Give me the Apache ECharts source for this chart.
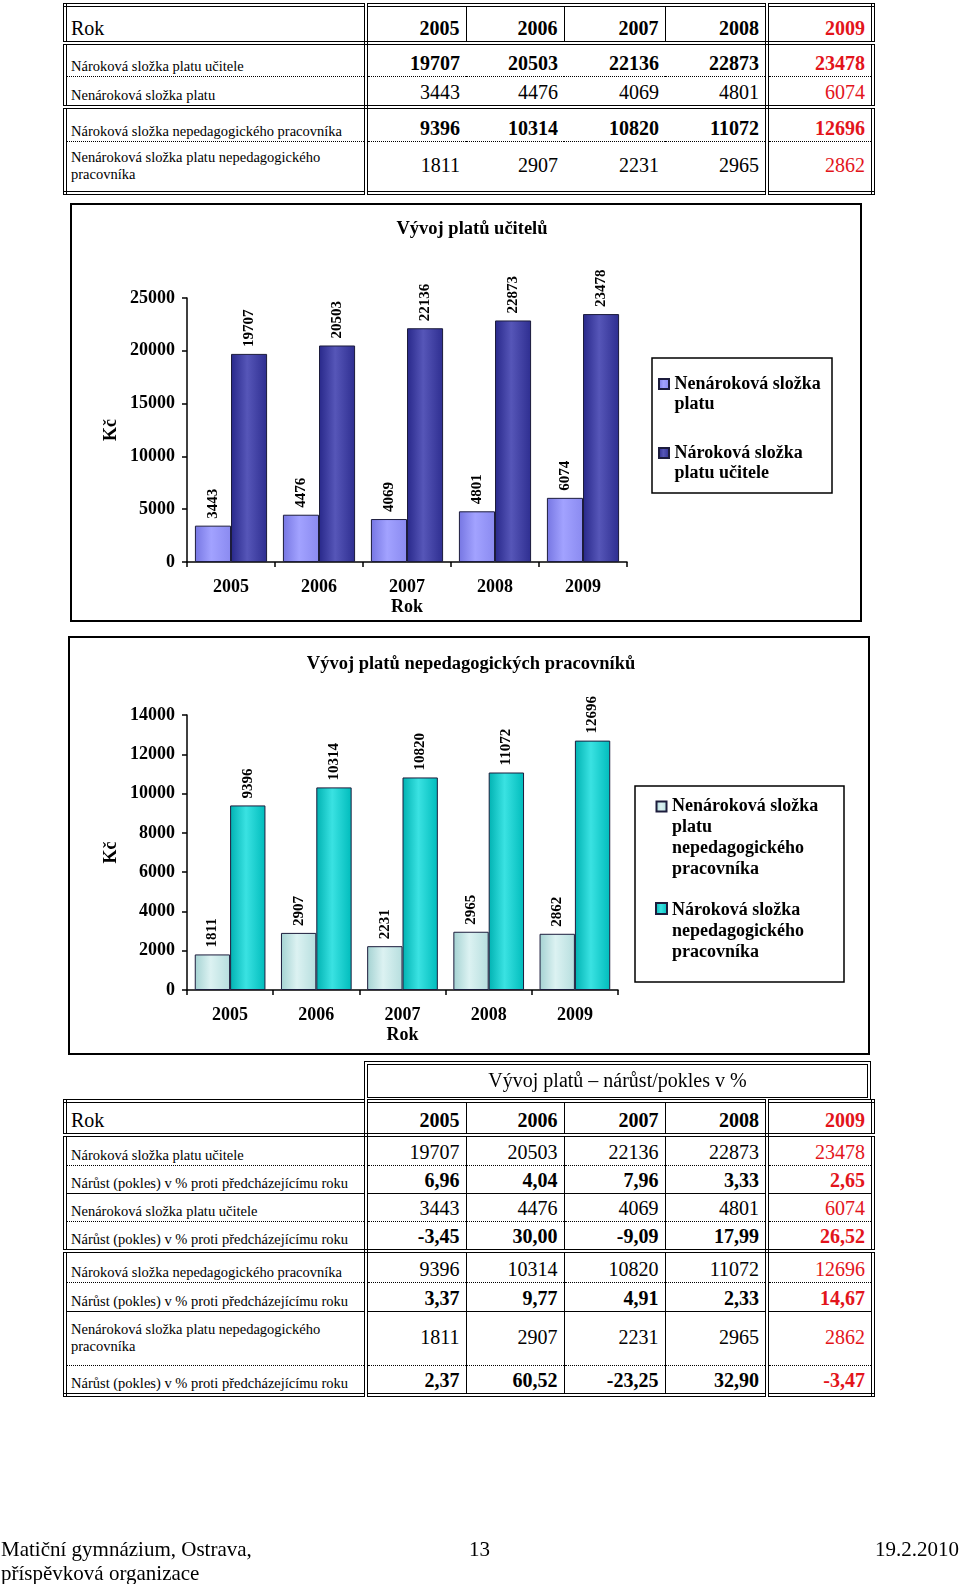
<!DOCTYPE html>
<html><head><meta charset="utf-8">
<script src="https://cdn.jsdelivr.net/npm/echarts@6/dist/echarts.min.js"></script>
<style>
html,body{margin:0;padding:0;background:#fff;}
body{width:960px;height:1584px;position:relative;overflow:hidden;font-family:'Liberation Serif','Times New Roman',serif;color:#000;}
#chart{position:absolute;left:0;top:0;width:960px;height:1584px;z-index:0;}
table{border-collapse:collapse;table-layout:fixed;position:absolute;border:4px double #000;z-index:2;background:#fff;}
td{padding:0 6px 1px 4px;vertical-align:bottom;white-space:nowrap;overflow:visible;}
td.lab{font-size:14.5px;text-align:left;}
td.num{font-size:20px;text-align:right;}
td.hd{font-size:20px;}
td.c0{border-right:4px double #000;}
td.c4{border-right:4px double #000;}
tr.bd-dotted td{border-bottom:1px dotted #000;}
tr.bd-double td{border-bottom:4px double #000;}
tr.bd-solid td{border-bottom:1px solid #000;}
tr.mid td{vertical-align:middle;}
.b{font-weight:bold;}
.red{color:#e3141b;}
table.t3 td.c1,table.t3 td.c2,table.t3 td.c3{border-right:1px solid #000;}
table.t1 tr.hdr td.c1,table.t1 tr.hdr td.c2,table.t1 tr.hdr td.c3{border-right:1px solid #000;}
#cap{position:absolute;left:364px;top:1061px;width:507px;height:40px;box-sizing:border-box;border:4px double #000;font-size:20px;text-align:center;line-height:30px;z-index:1;}
.foot{position:absolute;font-size:21px;line-height:24px;}
</style>
</head><body>
<div id="chart"></div>
<table class="t1" id="t1" style="left:63px;top:3px;width:808px;"></table>
<div id="cap">Vývoj platů – nárůst/pokles v %</div>
<table class="t3" id="t3" style="left:63px;top:1099px;width:808px;"></table>
<div class="foot" style="left:1px;top:1537px;">Matiční gymnázium, Ostrava,<br>příspěvková organizace</div>
<div class="foot" style="left:469px;top:1537px;">13</div>
<div class="foot" style="right:1px;top:1537px;">19.2.2010</div>
<script>
// ---- data ----
const years = ['2005', '2006', '2007', '2008', '2009'];
const teacherClaim = [19707, 20503, 22136, 22873, 23478];
const teacherNonClaim = [3443, 4476, 4069, 4801, 6074];
const staffClaim = [9396, 10314, 10820, 11072, 12696];
const staffNonClaim = [1811, 2907, 2231, 2965, 2862];
const teacherClaimPct = [6.96, 4.04, 7.96, 3.33, 2.65];
const teacherNonClaimPct = [-3.45, 30.00, -9.09, 17.99, 26.52];
const staffClaimPct = [3.37, 9.77, 4.91, 2.33, 14.67];
const staffNonClaimPct = [2.37, 60.52, -23.25, 32.90, -3.47];

const nameTeacherClaim = 'Nároková složka platu učitele';
const nameTeacherNonClaim = 'Nenároková složka platu';
const nameStaffClaim = 'Nároková složka nepedagogického pracovníka';
const nameStaffNonClaim = 'Nenároková složka platu nepedagogického pracovníka';
const pctLabel = 'Nárůst (pokles) v % proti předcházejícímu roku';

// ---- tables ----
const colW = [301, 100, 98, 101, 102, 106];
function fmt(v){ return v.toFixed(2).replace('.', ','); }
function buildTable(id, rows){
  const t = document.getElementById(id);
  let h = '<colgroup>' + colW.map(w => '<col style="width:' + w + 'px">').join('') + '</colgroup>';
  rows.forEach(r => {
    h += '<tr class="' + (r.cls || '') + '" style="height:' + r.h + 'px">';
    h += '<td class="c0 ' + (r.hdr ? 'hd' : 'lab') + '">' + r.label + '</td>';
    r.vals.forEach((v, i) => {
      const txt = typeof v === 'string' ? v : (r.pct ? fmt(v) : String(v));
      h += '<td class="num c' + (i + 1) + (r.bold ? ' b' : '') + (i === 4 ? ' red' : '') + '">' + txt + '</td>';
    });
    h += '</tr>';
  });
  t.innerHTML = h;
}
buildTable('t1', [
  {label: 'Rok', vals: years, bold: true, hdr: true, h: 38, cls: 'hdr bd-double'},
  {label: nameTeacherClaim, vals: teacherClaim, bold: true, h: 33, cls: 'bd-dotted'},
  {label: nameTeacherNonClaim, vals: teacherNonClaim, h: 31, cls: 'bd-double'},
  {label: nameStaffClaim, vals: staffClaim, bold: true, h: 34, cls: 'bd-dotted'},
  {label: 'Nenároková složka platu nepedagogického<br>pracovníka', vals: staffNonClaim, h: 52, cls: 'mid'}
]);
buildTable('t3', [
  {label: 'Rok', vals: years, bold: true, hdr: true, h: 34, cls: 'bd-double'},
  {label: 'Nároková složka platu učitele', vals: teacherClaim, h: 30, cls: 'bd-dotted'},
  {label: pctLabel, vals: teacherClaimPct, pct: true, bold: true, h: 28, cls: 'bd-solid'},
  {label: 'Nenároková složka platu učitele', vals: teacherNonClaim, h: 28, cls: 'bd-dotted'},
  {label: pctLabel, vals: teacherNonClaimPct, pct: true, bold: true, h: 30, cls: 'bd-double'},
  {label: nameStaffClaim, vals: staffClaim, h: 31, cls: 'bd-dotted'},
  {label: pctLabel, vals: staffClaimPct, pct: true, bold: true, h: 29, cls: 'bd-solid'},
  {label: 'Nenároková složka platu nepedagogického<br>pracovníka', vals: staffNonClaim, h: 54, cls: 'bd-dotted mid'},
  {label: pctLabel, vals: staffNonClaimPct, pct: true, bold: true, h: 30, cls: ''}
]);

// ---- charts ----
const font = 'Liberation Serif';
const grad = (a, b, c) => ({type: 'linear', x: 0, y: 0, x2: 1, y2: 0,
  colorStops: [{offset: 0, color: a}, {offset: 0.45, color: b}, {offset: 1, color: c}]});
const cLight1 = grad('#7676e2', '#a2a2ff', '#8a8af0');
const cDark1 = grad('#28288a', '#5656b8', '#2e2e90');
const cLight2 = grad('#a4d2d2', '#dcf2f2', '#b6dede');
const cCyan2 = grad('#00b2b2', '#3ae2e2', '#00bcbc');

const axisText = {fontFamily: font, fontSize: 18, fontWeight: 'bold', color: '#000'};
function xAx(gi, gap){
  return {type: 'category', gridIndex: gi, data: years, name: 'Rok', nameLocation: 'middle', nameGap: gap,
    nameTextStyle: axisText,
    axisLine: {lineStyle: {color: '#000', width: 1.5}},
    axisTick: {show: true, length: 5, lineStyle: {color: '#000', width: 1.5}},
    axisLabel: Object.assign({margin: 16}, axisText)};
}
function yAx(gi, max, interval){
  return {type: 'value', gridIndex: gi, min: 0, max: max, interval: interval, name: 'Kč', nameLocation: 'middle',
    nameGap: 67, nameRotate: 90, nameTextStyle: axisText,
    splitLine: {show: false},
    axisLine: {show: true, lineStyle: {color: '#000', width: 1.5}},
    axisTick: {show: true, length: 5, lineStyle: {color: '#000', width: 1.5}},
    axisLabel: Object.assign({margin: 12, formatter: v => String(v)}, axisText)};
}
const barLabel = {show: true, position: 'top', rotate: 90, align: 'left', verticalAlign: 'middle', distance: 7,
  fontFamily: font, fontSize: 15, fontWeight: 'bold', color: '#000'};
function bar(name, gi, data, color){
  return {type: 'bar', name: name, xAxisIndex: gi, yAxisIndex: gi, data: data, barGap: '0%', barCategoryGap: '18%',
    itemStyle: {color: color, borderColor: '#1c1c3c', borderWidth: 1}, label: barLabel};
}
const legendText = {fontFamily: font, fontSize: 18, fontWeight: 'bold', color: '#000'};
const icon2 = 'path://M0,0 M0,5h10v10h-10z M0,40';
const icon3 = 'path://M0,0 M0,5.5h10v10h-10z M0,63';
const icon4 = 'path://M0,0 M0,5.5h10v10h-10z M0,84';
const legendLines = {};
legendLines[nameTeacherNonClaim] = 'Nenároková složka\nplatu';
legendLines[nameTeacherClaim] = 'Nároková složka\nplatu učitele';
legendLines[nameStaffNonClaim] = 'Nenároková složka\nplatu\nnepedagogického\npracovníka';
legendLines[nameStaffClaim] = 'Nároková složka\nnepedagogického\npracovníka';

const chart = echarts.init(document.getElementById('chart'), null, {renderer: 'canvas'});
chart.setOption({
  animation: false,
  textStyle: {fontFamily: font},
  title: [
    {text: 'Vývoj platů učitelů', left: 467, top: 215, textAlign: 'center',
      textStyle: {fontFamily: font, fontSize: 18.5, fontWeight: 'bold', color: '#000'}},
    {text: 'Vývoj platů nepedagogických pracovníků', left: 466, top: 650, textAlign: 'center',
      textStyle: {fontFamily: font, fontSize: 18.5, fontWeight: 'bold', color: '#000'}}
  ],
  grid: [
    {left: 187, top: 298, width: 440, height: 264},
    {left: 187, top: 715, width: 431, height: 275}
  ],
  xAxis: [xAx(0, 36), xAx(1, 36)],
  yAxis: [yAx(0, 25000, 5000), yAx(1, 14000, 2000)],
  legend: [
    {orient: 'vertical', left: 658, top: 373, padding: 0, itemGap: 27, itemWidth: 11, itemHeight: 40,
      textStyle: Object.assign({lineHeight: 20}, legendText),
      formatter: n => legendLines[n],
      data: [{name: nameTeacherNonClaim, icon: icon2}, {name: nameTeacherClaim, icon: icon2}]},
    {orient: 'vertical', left: 655, top: 795, padding: 0, itemGap: 15, itemWidth: 11,
      textStyle: Object.assign({lineHeight: 21}, legendText),
      formatter: n => legendLines[n],
      data: [{name: nameStaffNonClaim, icon: icon4, itemHeight: 84}, {name: nameStaffClaim, icon: icon3}],
      itemHeight: 84}
  ],
  graphic: [
    {type: 'rect', shape: {x: 71, y: 204, width: 790, height: 417}, style: {fill: 'none', stroke: '#000', lineWidth: 2}, silent: true},
    {type: 'rect', shape: {x: 69, y: 637, width: 800, height: 417}, style: {fill: 'none', stroke: '#000', lineWidth: 2}, silent: true},
    {type: 'rect', shape: {x: 652, y: 358, width: 180, height: 135}, style: {fill: 'none', stroke: '#000', lineWidth: 1.5}, silent: true},
    {type: 'rect', shape: {x: 635, y: 786, width: 209, height: 196}, style: {fill: 'none', stroke: '#000', lineWidth: 1.5}, silent: true}
  ],
  series: [
    bar(nameTeacherNonClaim, 0, teacherNonClaim, cLight1),
    bar(nameTeacherClaim, 0, teacherClaim, cDark1),
    bar(nameStaffNonClaim, 1, staffNonClaim, cLight2),
    bar(nameStaffClaim, 1, staffClaim, cCyan2)
  ]
});
</script>
</body></html>
